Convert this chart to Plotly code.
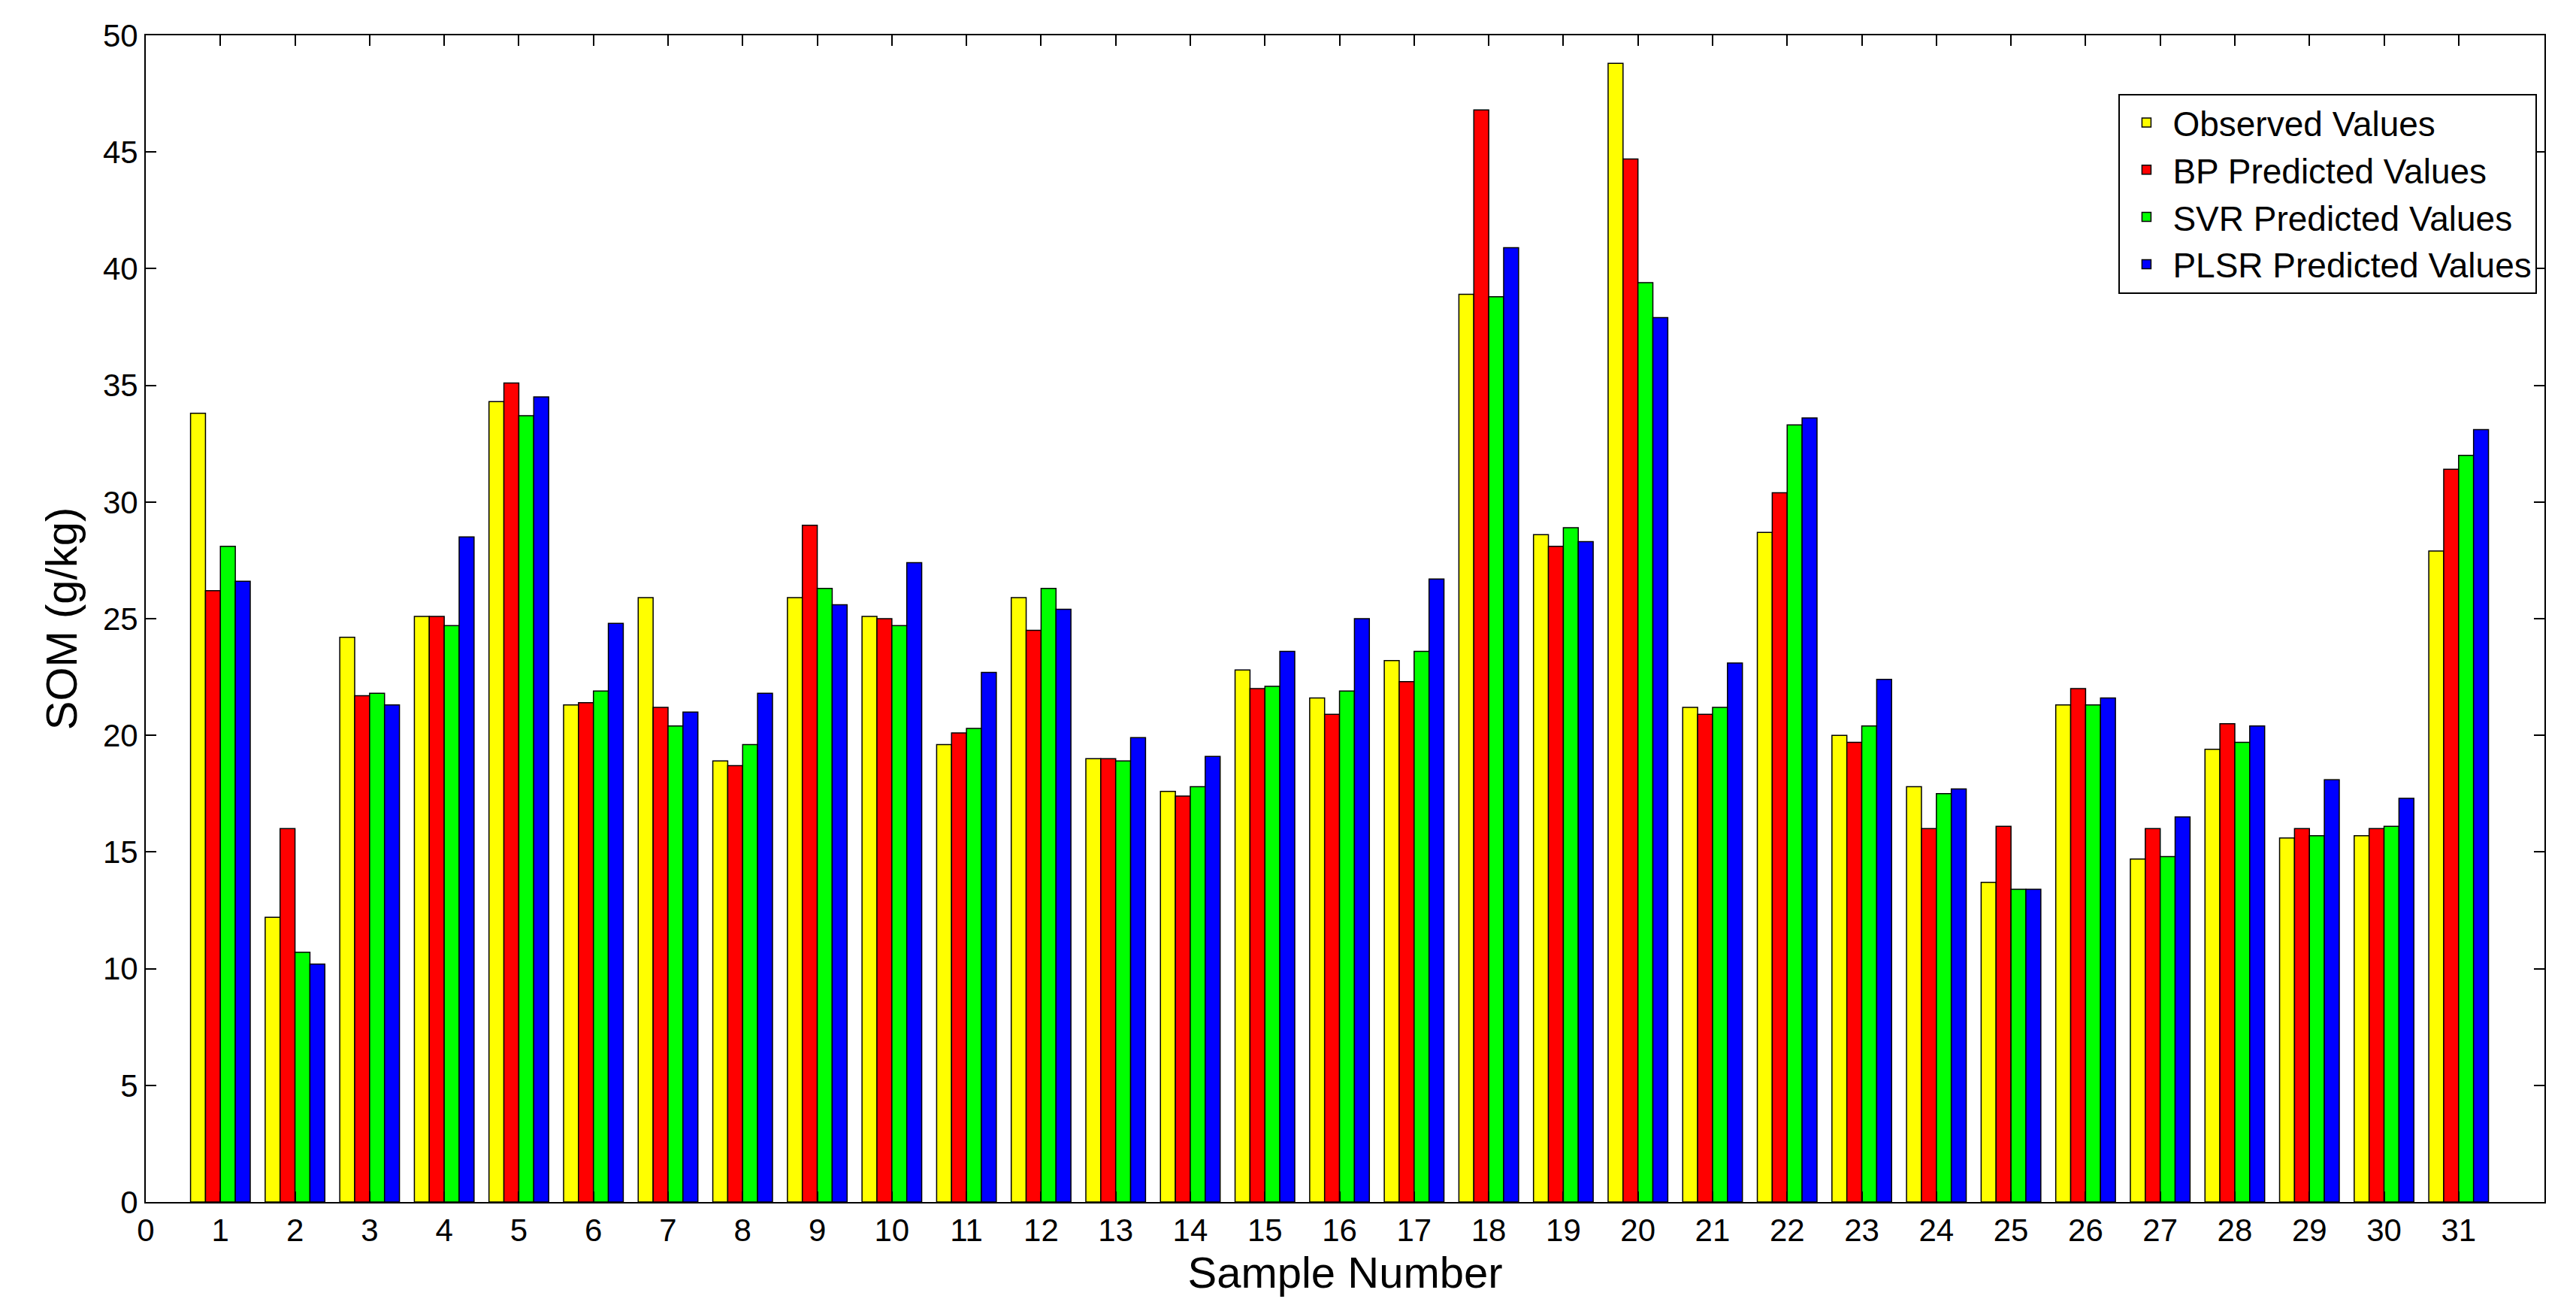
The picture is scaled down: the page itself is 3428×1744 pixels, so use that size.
import plotly.graph_objects as go

samples = list(range(1, 32))
observed = [33.8,12.2,24.2,25.1,34.3,21.3,25.9,18.9,25.9,25.1,19.6,25.9,19.0,17.6,22.8,21.6,23.2,38.9,28.6,48.8,21.2,28.7,20.0,17.8,13.7,21.3,14.7,19.4,15.6,15.7,27.9]
bp = [26.2,16.0,21.7,25.1,35.1,21.4,21.2,18.7,29.0,25.0,20.1,24.5,19.0,17.4,22.0,20.9,22.3,46.8,28.1,44.7,20.9,30.4,19.7,16.0,16.1,22.0,16.0,20.5,16.0,16.0,31.4]
svr = [28.1,10.7,21.8,24.7,33.7,21.9,20.4,19.6,26.3,24.7,20.3,26.3,18.9,17.8,22.1,21.9,23.6,38.8,28.9,39.4,21.2,33.3,20.4,17.5,13.4,21.3,14.8,19.7,15.7,16.1,32.0]
plsr = [26.6,10.2,21.3,28.5,34.5,24.8,21.0,21.8,25.6,27.4,22.7,25.4,19.9,19.1,23.6,25.0,26.7,40.9,28.3,37.9,23.1,33.6,22.4,17.7,13.4,21.6,16.5,20.4,18.1,17.3,33.1]
names = ["Observed Values","BP Predicted Values","SVR Predicted Values","PLSR Predicted Values"]
colors = ["#FFFF00","#FF0000","#00FF00","#0000FF"]

fig = go.Figure()
for n, c, v in zip(names, colors, [observed, bp, svr, plsr]):
    fig.add_trace(go.Bar(x=samples, y=v, name=n, marker=dict(color=c, line=dict(color="black", width=1.5))))

axis_common = dict(showline=True, linecolor="black", linewidth=2, mirror="ticks", ticks="inside",
                   ticklen=14, tickwidth=2, tickcolor="black", showgrid=False, zeroline=False,
                   tickfont=dict(family="Arial, Liberation Sans", size=42, color="black"))
fig.update_layout(
    width=3428, height=1744, barmode="group", bargap=0.2, bargroupgap=0,
    plot_bgcolor="white", paper_bgcolor="white",
    margin=dict(l=186, r=50, t=39, b=153),
    font=dict(family="Arial, Liberation Sans", color="black"),
    xaxis=dict(range=[0, 32.15], tickmode="array", tickvals=list(range(0, 32)),
               title=dict(text="Sample Number", font=dict(size=58), standoff=6), **axis_common),
    yaxis=dict(range=[0, 50], dtick=5,
               title=dict(text="SOM (g/kg)", font=dict(size=58), standoff=16), **axis_common),
    legend=dict(x=0.997, y=0.95, xanchor="right", yanchor="top", bgcolor="white",
                bordercolor="black", borderwidth=2, font=dict(size=46),
                tracegroupgap=0, itemwidth=60),
)
fig.write_html("out.html")
